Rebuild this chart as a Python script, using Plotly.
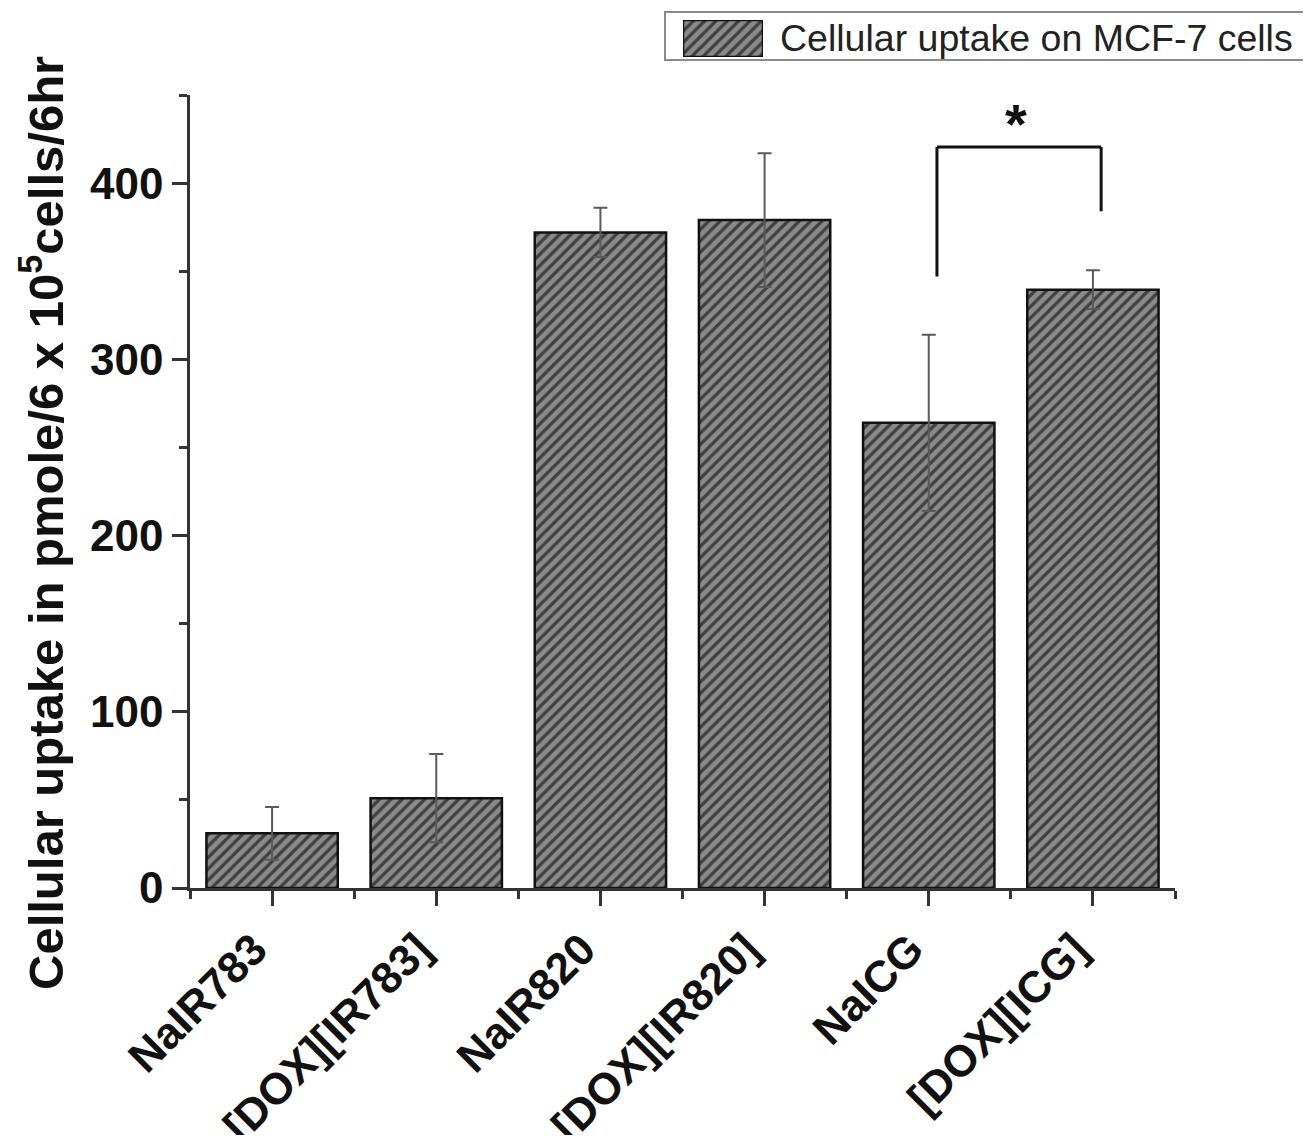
import plotly.graph_objects as go

categories = ["NaIR783", "[DOX][IR783]", "NaIR820", "[DOX][IR820]", "NaICG", "[DOX][ICG]"]
uptake = [31, 51, 372, 379, 264, 339.5]
uptake_err = [15, 25, 14, 38, 50, 11]
y_ticks = [0, 100, 200, 300, 400]
legend_label = "Cellular uptake on MCF-7 cells"
y_title = "Cellular uptake in pmole/6 x 10<sup>5</sup>cells/6hr"

# significance bracket (between NaICG and [DOX][ICG])
br_x = [4.05, 5.05]
br_top = 420.5
br_legs = [347, 384]
star_pos = (4.53, 434)

FONT = "Liberation Sans, Arial, sans-serif"
xs = list(range(len(categories)))

pattern = dict(shape="/", fgcolor="#404040", bgcolor="#8a8a8a", size=8, solidity=0.4, fillmode="replace")

fig = go.Figure()
fig.add_trace(go.Bar(
    x=xs, y=uptake, width=0.8,
    marker=dict(color="#8a8a8a", pattern=pattern, line=dict(color="#111", width=2.5)),
    error_y=dict(type="data", array=uptake_err, color="#5a5a5a", thickness=2, width=7),
    showlegend=False, name=legend_label,
))
# legend swatch
fig.add_trace(go.Bar(
    x=[0], y=[1], width=1, xaxis="x2", yaxis="y2",
    marker=dict(color="#8a8a8a", pattern=pattern, line=dict(color="#111", width=2.5)),
    showlegend=False, hoverinfo="skip",
))

OFF = 8  # default page body margin
W, H = 1311 - 2 * OFF, 1143 - 2 * OFF
L, R, T, B = 190 - OFF, 0, 0, 255 - OFF
pw, ph = W - L - R, H - T - B
def px(xs_):  # screen pixel -> paper x
    return (xs_ - OFF - L) / pw
def py(ys_):  # screen pixel -> paper y
    return (H - B - (ys_ - OFF)) / ph

axis_common = dict(showline=True, linecolor="#333", linewidth=2.5, ticks="outside",
                   tickwidth=2.5, tickcolor="#333", ticklen=15, automargin=False,
                   tickfont=dict(family=FONT, size=44, color="#111", weight="bold"),
                   showgrid=False, zeroline=False)

fig.update_layout(
    width=W, height=H,
    margin=dict(l=L, r=R, t=T, b=B, autoexpand=False),
    plot_bgcolor="white", paper_bgcolor="white",
    xaxis=dict(domain=[0, px(1175)], range=[-0.5, 5.5], tickmode="array", tickvals=xs,
               ticktext=categories, tickangle=-45, ticklabelshift=-18,
               minor=dict(tickmode="linear", tick0=-0.5, dtick=1, ticklen=8, tickwidth=2.5,
                          tickcolor="#333", ticks="outside"),
               **axis_common),
    yaxis=dict(domain=[0, py(95)], range=[0, 450], tickmode="array", tickvals=y_ticks,
               minor=dict(tickmode="linear", tick0=0, dtick=50, ticklen=8, tickwidth=2.5,
                          tickcolor="#333", ticks="outside"),
               **axis_common),
    xaxis2=dict(domain=[px(683), px(763)], range=[-0.5, 0.5], anchor="y2", visible=False,
                automargin=False),
    yaxis2=dict(domain=[py(57), py(20)], range=[0, 1], anchor="x2", visible=False,
                automargin=False),
    bargap=0.2,
)

shapes = [
    dict(type="rect", xref="paper", yref="paper", x0=px(665), x1=px(1330), y0=py(60), y1=py(12),
         line=dict(color="#8c8c8c", width=2), fillcolor="rgba(0,0,0,0)", layer="below"),
    dict(type="line", xref="x", yref="y", x0=br_x[0], x1=br_x[0], y0=br_legs[0], y1=br_top,
         line=dict(color="#111", width=3)),
    dict(type="line", xref="x", yref="y", x0=br_x[0], x1=br_x[1], y0=br_top, y1=br_top,
         line=dict(color="#111", width=3)),
    dict(type="line", xref="x", yref="y", x0=br_x[1], x1=br_x[1], y0=br_legs[1], y1=br_top,
         line=dict(color="#111", width=3)),
]
fig.update_layout(shapes=shapes)

fig.add_annotation(x=star_pos[0], y=star_pos[1], xref="x", yref="y", text="*", showarrow=False,
                   font=dict(family=FONT, size=56, color="#111", weight="bold"),
                   xanchor="center", yanchor="middle")
fig.add_annotation(x=px(778), y=py(38), xref="paper", yref="paper", text=legend_label,
                   showarrow=False, xanchor="left", yanchor="middle",
                   font=dict(family=FONT, size=37.5, color="#222"))
fig.add_annotation(x=px(42), y=py(523), xref="paper", yref="paper", text=y_title,
                   showarrow=False, textangle=-90, xanchor="center", yanchor="middle",
                   font=dict(family=FONT, size=49, color="#111", weight="bold"))

fig.write_html("out.html")
